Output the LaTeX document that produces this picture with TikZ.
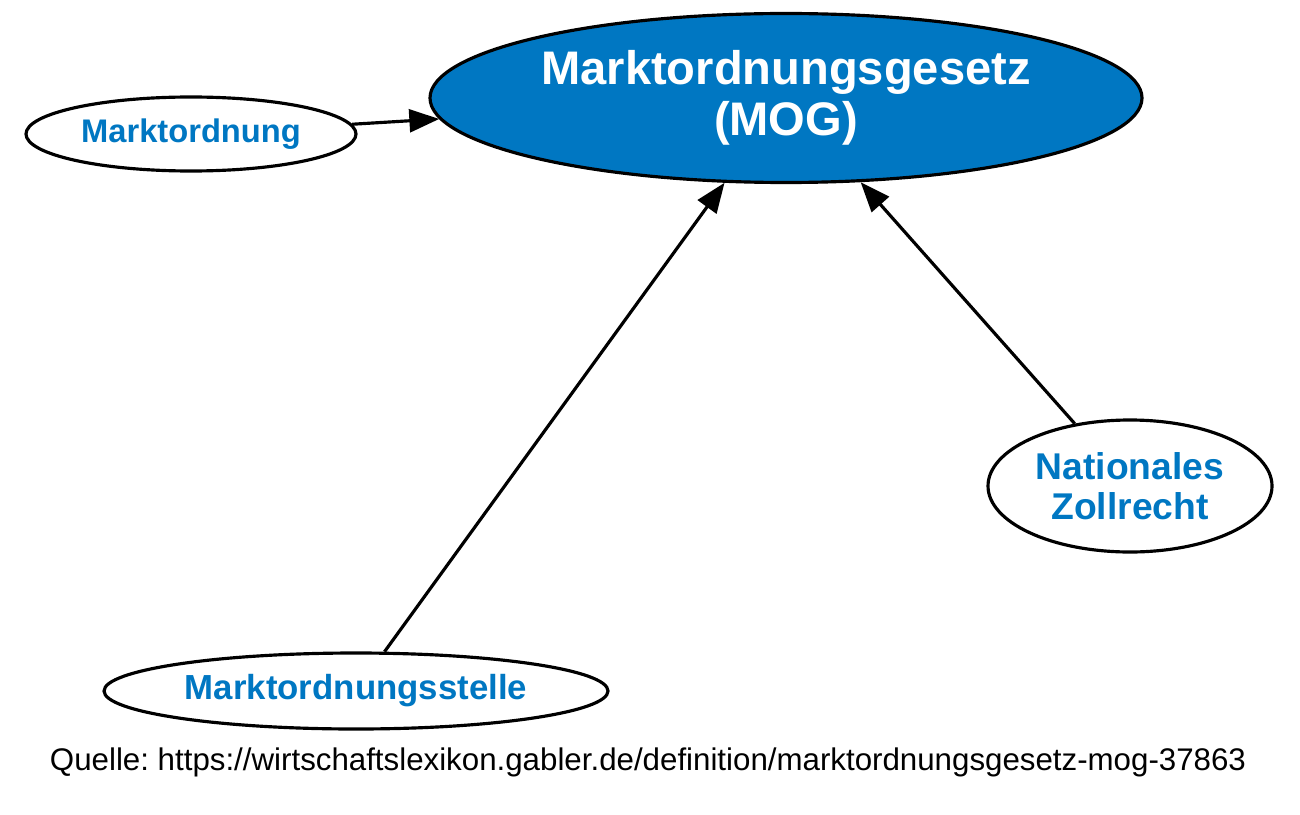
\documentclass[tikz,border=0pt]{standalone}
\usepackage{fontspec}
\setmainfont{Liberation Sans}
\usetikzlibrary{shapes.geometric,arrows.meta}
\definecolor{gablerblue}{RGB}{0,119,194}

\begin{document}
\begin{tikzpicture}[x=0.02cm,y=-0.02cm]
\tikzstyle{every node}+=[inner sep=0pt]
\tikzstyle{term}=[ellipse,draw=black,line width=1.8pt,text=gablerblue,align=center,font=\bfseries]
\tikzstyle{link}=[line width=1.8pt,-{Triangle[length=17pt,width=13pt]}]
\useasboundingbox (0,0) rectangle (1300,814);
% main term
\node [term,fill=gablerblue,text=white,minimum width=712*0.02cm,minimum height=169*0.02cm,
  font=\fontsize{26.8}{29}\selectfont\bfseries] (mog) at (786,98) {Marktordnungsgesetz\\(MOG)};
% related terms
\node [term,minimum width=330*0.02cm,minimum height=74*0.02cm,
  font=\fontsize{18.6}{22}\selectfont\bfseries] (ordnung) at (191,134) {Marktordnung};
\node [term,minimum width=284*0.02cm,minimum height=132*0.02cm,
  font=\fontsize{21.2}{23}\selectfont\bfseries] (zoll) at (1130,486) {Nationales\\Zollrecht};
\node [term,minimum width=504*0.02cm,minimum height=76*0.02cm,
  font=\fontsize{19.8}{23}\selectfont\bfseries] (stelle) at (356,691) {Marktordnungsstelle};
\draw [link] (ordnung) -- (mog);
\draw [link] (stelle) -- (mog);
\draw [link] (zoll) -- (mog);
% source
\node [font=\fontsize{17.8}{20}\selectfont] (quelle) at (648,762) {\frenchspacing Quelle: https://wirtschaftslexikon.gabler.de/definition/marktordnungsgesetz-mog-37863};
\end{tikzpicture}
\end{document}
